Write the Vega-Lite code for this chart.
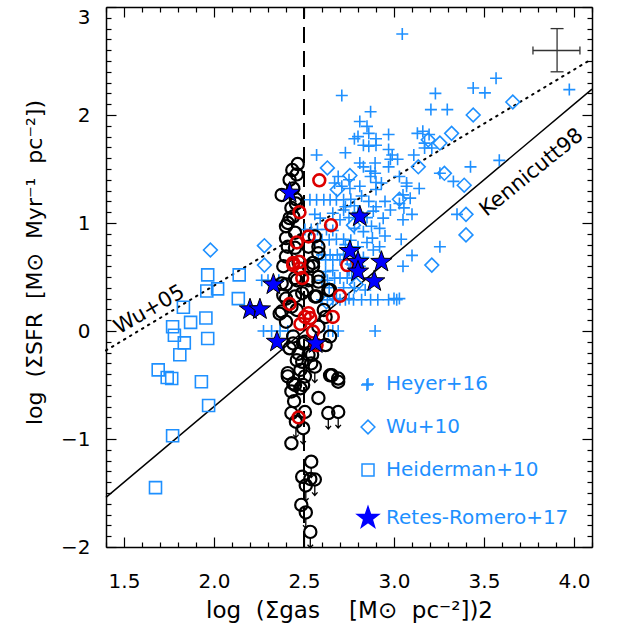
{
  "$schema": "https://vega.github.io/schema/vega-lite/v6.json",
  "width": 486,
  "height": 540,
  "autosize": {"type": "none"},
  "padding": {"left": 106, "top": 7, "right": 25, "bottom": 77},
  "background": "white",
  "config": {
    "view": {"stroke": null},
    "font": "DejaVu Sans",
    "axis": {"domainColor": "black", "domainWidth": 1.5, "tickColor": "black", "tickWidth": 1.2, "labelColor": "black", "titleColor": "black", "grid": false, "labelFont": "DejaVu Sans", "titleFont": "DejaVu Sans", "labelFontSize": 20, "titleFontSize": 22, "titleFontWeight": "normal", "labelFlush": false, "labelOverlap": false},
    "legend": {"padding": 0, "rowPadding": 23, "labelFontSize": 20, "labelFont": "DejaVu Sans", "labelColor": "#1e90ff", "labelOffset": 6, "labelLimit": 400, "symbolStrokeWidth": 1.5, "symbolOpacity": 1}
  },
  "datasets": {
    "kenn": [{"x": 1.4, "y": -1.54}, {"x": 4.1, "y": 2.24}],
    "wu05": [{"x": 1.4, "y": -0.18}, {"x": 4.1, "y": 2.52}],
    "vline": [{"x": 2.5, "y": -2, "y2": 3}],
    "errh": [{"x": 3.772, "x2": 4.033, "y": 2.597}],
    "errv": [{"x": 3.906, "y": 2.40, "y2": 2.80}],
    "capsv": [{"x": 3.772, "y": 2.597}, {"x": 4.033, "y": 2.597}],
    "capsh": [{"x": 3.906, "y": 2.40}, {"x": 3.906, "y": 2.80}],
    "labwu": [{"x": 1.642, "y": 0.195, "label": "Wu+05"}],
    "labk": [{"x": 3.765, "y": 1.466, "label": "Kennicutt98"}],
    "blue": [
      {"series": "Heyer+16", "x": 3.046, "y": 2.75}, {"series": "Heyer+16", "x": 2.71, "y": 2.18}, {"series": "Heyer+16", "x": 3.23, "y": 2.20}, {"series": "Heyer+16", "x": 3.44, "y": 2.25}, {"series": "Heyer+16", "x": 3.505, "y": 2.205}, {"series": "Heyer+16", "x": 3.567, "y": 2.34}, {"series": "Heyer+16", "x": 3.974, "y": 2.235}, {"series": "Heyer+16", "x": 2.87, "y": 2.03}, {"series": "Heyer+16", "x": 3.205, "y": 2.05}, {"series": "Heyer+16", "x": 3.296, "y": 2.05},
      {"series": "Heyer+16", "x": 2.81, "y": 1.94}, {"series": "Heyer+16", "x": 2.85, "y": 1.895}, {"series": "Heyer+16", "x": 2.86, "y": 1.83}, {"series": "Heyer+16", "x": 2.80, "y": 1.80}, {"series": "Heyer+16", "x": 2.78, "y": 1.78}, {"series": "Heyer+16", "x": 2.90, "y": 1.78}, {"series": "Heyer+16", "x": 2.97, "y": 1.82}, {"series": "Heyer+16", "x": 3.13, "y": 1.83}, {"series": "Heyer+16", "x": 3.16, "y": 1.85}, {"series": "Heyer+16", "x": 3.195, "y": 1.82}, {"series": "Heyer+16", "x": 3.17, "y": 1.74},
      {"series": "Heyer+16", "x": 2.86, "y": 1.71}, {"series": "Heyer+16", "x": 2.73, "y": 1.65}, {"series": "Heyer+16", "x": 2.57, "y": 1.63}, {"series": "Heyer+16", "x": 2.97, "y": 1.68}, {"series": "Heyer+16", "x": 2.99, "y": 1.63}, {"series": "Heyer+16", "x": 2.98, "y": 1.59}, {"series": "Heyer+16", "x": 3.02, "y": 1.59}, {"series": "Heyer+16", "x": 3.11, "y": 1.63}, {"series": "Heyer+16", "x": 3.17, "y": 1.695}, {"series": "Heyer+16", "x": 3.21, "y": 1.695},
      {"series": "Heyer+16", "x": 2.83, "y": 1.72}, {"series": "Heyer+16", "x": 2.90, "y": 1.72},
      {"series": "Heyer+16", "x": 2.81, "y": 1.555}, {"series": "Heyer+16", "x": 2.83, "y": 1.52}, {"series": "Heyer+16", "x": 2.87, "y": 1.48}, {"series": "Heyer+16", "x": 2.895, "y": 1.555}, {"series": "Heyer+16", "x": 2.895, "y": 1.46}, {"series": "Heyer+16", "x": 2.87, "y": 1.43}, {"series": "Heyer+16", "x": 2.97, "y": 1.52}, {"series": "Heyer+16", "x": 2.69, "y": 1.43}, {"series": "Heyer+16", "x": 2.67, "y": 1.37}, {"series": "Heyer+16", "x": 2.81, "y": 1.34},
      {"series": "Heyer+16", "x": 2.71, "y": 1.34}, {"series": "Heyer+16", "x": 2.755, "y": 1.32}, {"series": "Heyer+16", "x": 2.75, "y": 1.40}, {"series": "Heyer+16", "x": 2.90, "y": 1.375}, {"series": "Heyer+16", "x": 2.93, "y": 1.37}, {"series": "Heyer+16", "x": 2.90, "y": 1.31}, {"series": "Heyer+16", "x": 3.03, "y": 1.43}, {"series": "Heyer+16", "x": 3.07, "y": 1.34}, {"series": "Heyer+16", "x": 3.07, "y": 1.37}, {"series": "Heyer+16", "x": 3.14, "y": 1.32}, {"series": "Heyer+16", "x": 3.03, "y": 1.18}, {"series": "Heyer+16", "x": 3.09, "y": 1.23}, {"series": "Heyer+16", "x": 3.055, "y": 1.14}, {"series": "Heyer+16", "x": 3.05, "y": 1.26},
      {"series": "Heyer+16", "x": 3.255, "y": 1.46}, {"series": "Heyer+16", "x": 3.33, "y": 1.385}, {"series": "Heyer+16", "x": 3.425, "y": 1.52}, {"series": "Heyer+16", "x": 3.585, "y": 1.58}, {"series": "Heyer+16", "x": 3.35, "y": 1.08},
      {"series": "Heyer+16", "x": 2.94, "y": 1.045}, {"series": "Heyer+16", "x": 3.10, "y": 1.08}, {"series": "Heyer+16", "x": 3.05, "y": 1.03}, {"series": "Heyer+16", "x": 2.92, "y": 0.95}, {"series": "Heyer+16", "x": 2.875, "y": 0.97}, {"series": "Heyer+16", "x": 2.885, "y": 1.11}, {"series": "Heyer+16", "x": 3.04, "y": 0.85}, {"series": "Heyer+16", "x": 3.255, "y": 0.78}, {"series": "Heyer+16", "x": 3.10, "y": 0.70}, {"series": "Heyer+16", "x": 3.05, "y": 0.60},
      {"series": "Heyer+16", "x": 2.533, "y": 1.215}, {"series": "Heyer+16", "x": 2.57, "y": 1.215}, {"series": "Heyer+16", "x": 2.61, "y": 1.215}, {"series": "Heyer+16", "x": 2.645, "y": 1.215}, {"series": "Heyer+16", "x": 2.68, "y": 1.215}, {"series": "Heyer+16", "x": 2.72, "y": 1.215}, {"series": "Heyer+16", "x": 2.76, "y": 1.22},
      {"series": "Heyer+16", "x": 2.72, "y": 1.12}, {"series": "Heyer+16", "x": 2.56, "y": 1.08}, {"series": "Heyer+16", "x": 2.59, "y": 1.045}, {"series": "Heyer+16", "x": 2.70, "y": 1.03}, {"series": "Heyer+16", "x": 2.66, "y": 1.09}, {"series": "Heyer+16", "x": 2.75, "y": 1.05}, {"series": "Heyer+16", "x": 2.80, "y": 1.10},
      {"series": "Heyer+16", "x": 2.505, "y": 0.94}, {"series": "Heyer+16", "x": 2.54, "y": 0.94}, {"series": "Heyer+16", "x": 2.575, "y": 0.94}, {"series": "Heyer+16", "x": 2.625, "y": 0.94}, {"series": "Heyer+16", "x": 2.66, "y": 0.93}, {"series": "Heyer+16", "x": 2.83, "y": 0.92}, {"series": "Heyer+16", "x": 2.78, "y": 0.95},
      {"series": "Heyer+16", "x": 2.56, "y": 0.845}, {"series": "Heyer+16", "x": 2.60, "y": 0.845}, {"series": "Heyer+16", "x": 2.64, "y": 0.845}, {"series": "Heyer+16", "x": 2.68, "y": 0.85}, {"series": "Heyer+16", "x": 2.72, "y": 0.85}, {"series": "Heyer+16", "x": 2.76, "y": 0.84},
      {"series": "Heyer+16", "x": 2.73, "y": 0.80}, {"series": "Heyer+16", "x": 2.885, "y": 0.75}, {"series": "Heyer+16", "x": 2.80, "y": 0.78}, {"series": "Heyer+16", "x": 2.85, "y": 0.82},
      {"series": "Heyer+16", "x": 2.60, "y": 0.705}, {"series": "Heyer+16", "x": 2.645, "y": 0.705}, {"series": "Heyer+16", "x": 2.685, "y": 0.705}, {"series": "Heyer+16", "x": 2.72, "y": 0.71},
      {"series": "Heyer+16", "x": 2.58, "y": 0.66}, {"series": "Heyer+16", "x": 2.62, "y": 0.66}, {"series": "Heyer+16", "x": 2.66, "y": 0.66}, {"series": "Heyer+16", "x": 2.70, "y": 0.66}, {"series": "Heyer+16", "x": 2.74, "y": 0.66},
      {"series": "Heyer+16", "x": 2.76, "y": 0.62}, {"series": "Heyer+16", "x": 2.81, "y": 0.60},
      {"series": "Heyer+16", "x": 2.67, "y": 0.49}, {"series": "Heyer+16", "x": 2.70, "y": 0.49}, {"series": "Heyer+16", "x": 2.74, "y": 0.49}, {"series": "Heyer+16", "x": 2.765, "y": 0.49}, {"series": "Heyer+16", "x": 2.60, "y": 0.47}, {"series": "Heyer+16", "x": 2.63, "y": 0.47}, {"series": "Heyer+16", "x": 2.265, "y": 0.47}, {"series": "Heyer+16", "x": 2.30, "y": 0.47}, {"series": "Heyer+16", "x": 2.36, "y": 0.47},
      {"series": "Heyer+16", "x": 2.60, "y": 0.29}, {"series": "Heyer+16", "x": 2.63, "y": 0.29}, {"series": "Heyer+16", "x": 2.66, "y": 0.29}, {"series": "Heyer+16", "x": 2.70, "y": 0.29}, {"series": "Heyer+16", "x": 2.73, "y": 0.29}, {"series": "Heyer+16", "x": 2.775, "y": 0.29}, {"series": "Heyer+16", "x": 2.82, "y": 0.29}, {"series": "Heyer+16", "x": 2.87, "y": 0.29}, {"series": "Heyer+16", "x": 2.91, "y": 0.29}, {"series": "Heyer+16", "x": 2.97, "y": 0.29}, {"series": "Heyer+16", "x": 3.015, "y": 0.29}, {"series": "Heyer+16", "x": 2.68, "y": 0.30}, {"series": "Heyer+16", "x": 2.75, "y": 0.30},
      {"series": "Heyer+16", "x": 2.275, "y": 0.0}, {"series": "Heyer+16", "x": 2.32, "y": 0.0}, {"series": "Heyer+16", "x": 2.367, "y": 0.0}, {"series": "Heyer+16", "x": 2.41, "y": 0.0}, {"series": "Heyer+16", "x": 2.635, "y": 0.0}, {"series": "Heyer+16", "x": 2.66, "y": 0.0}, {"series": "Heyer+16", "x": 2.69, "y": 0.0}, {"series": "Heyer+16", "x": 2.895, "y": 0.0},
      {"series": "Heyer+16", "x": 2.85, "y": -0.50},
      {"series": "Heyer+16", "x": 2.62, "y": 0.55}, {"series": "Heyer+16", "x": 2.66, "y": 0.56}, {"series": "Heyer+16", "x": 2.75, "y": 0.56}, {"series": "Heyer+16", "x": 2.78, "y": 0.40}, {"series": "Heyer+16", "x": 2.72, "y": 0.40}, {"series": "Heyer+16", "x": 2.84, "y": 0.38}, {"series": "Heyer+16", "x": 2.64, "y": 0.40},
      {"series": "Heyer+16", "x": 2.73, "y": 1.15}, {"series": "Heyer+16", "x": 2.78, "y": 1.16}, {"series": "Heyer+16", "x": 2.82, "y": 1.25}, {"series": "Heyer+16", "x": 2.86, "y": 1.20}, {"series": "Heyer+16", "x": 2.85, "y": 1.05}, {"series": "Heyer+16", "x": 2.90, "y": 1.15}, {"series": "Heyer+16", "x": 2.95, "y": 1.20}, {"series": "Heyer+16", "x": 2.98, "y": 1.12}, {"series": "Heyer+16", "x": 2.95, "y": 0.88}, {"series": "Heyer+16", "x": 2.88, "y": 0.86}, {"series": "Heyer+16", "x": 2.92, "y": 0.78}, {"series": "Heyer+16", "x": 2.78, "y": 0.70}, {"series": "Heyer+16", "x": 2.83, "y": 0.68},
      {"series": "Heyer+16", "x": 3.00, "y": 0.30}, {"series": "Heyer+16", "x": 3.03, "y": 0.30},
      {"series": "Wu+10", "x": 1.98, "y": 0.75}, {"series": "Wu+10", "x": 2.28, "y": 0.79}, {"series": "Wu+10", "x": 2.28, "y": 0.61}, {"series": "Wu+10", "x": 2.63, "y": 1.51}, {"series": "Wu+10", "x": 2.755, "y": 1.44}, {"series": "Wu+10", "x": 2.685, "y": 1.31}, {"series": "Wu+10", "x": 3.19, "y": 1.77}, {"series": "Wu+10", "x": 3.255, "y": 1.74}, {"series": "Wu+10", "x": 3.32, "y": 1.83}, {"series": "Wu+10", "x": 3.44, "y": 2.00}, {"series": "Wu+10", "x": 3.66, "y": 2.12}, {"series": "Wu+10", "x": 3.135, "y": 1.52}, {"series": "Wu+10", "x": 3.28, "y": 1.46}, {"series": "Wu+10", "x": 3.03, "y": 1.22}, {"series": "Wu+10", "x": 3.39, "y": 1.35}, {"series": "Wu+10", "x": 3.40, "y": 1.08}, {"series": "Wu+10", "x": 3.40, "y": 0.89}, {"series": "Wu+10", "x": 3.21, "y": 0.61}, {"series": "Wu+10", "x": 2.775, "y": 0.98}, {"series": "Wu+10", "x": 2.79, "y": 0.43}, {"series": "Wu+10", "x": 2.625, "y": 0.27},
      {"series": "Heiderman+10", "x": 1.965, "y": 0.52}, {"series": "Heiderman+10", "x": 2.14, "y": 0.52}, {"series": "Heiderman+10", "x": 1.96, "y": 0.37}, {"series": "Heiderman+10", "x": 2.02, "y": 0.39}, {"series": "Heiderman+10", "x": 2.135, "y": 0.30}, {"series": "Heiderman+10", "x": 1.83, "y": 0.22}, {"series": "Heiderman+10", "x": 1.87, "y": 0.08}, {"series": "Heiderman+10", "x": 1.955, "y": 0.12}, {"series": "Heiderman+10", "x": 1.77, "y": 0.04}, {"series": "Heiderman+10", "x": 1.78, "y": -0.04}, {"series": "Heiderman+10", "x": 1.835, "y": -0.11}, {"series": "Heiderman+10", "x": 1.965, "y": -0.07}, {"series": "Heiderman+10", "x": 1.81, "y": -0.22}, {"series": "Heiderman+10", "x": 1.69, "y": -0.36}, {"series": "Heiderman+10", "x": 1.74, "y": -0.43}, {"series": "Heiderman+10", "x": 1.765, "y": -0.44}, {"series": "Heiderman+10", "x": 1.93, "y": -0.47}, {"series": "Heiderman+10", "x": 1.97, "y": -0.69}, {"series": "Heiderman+10", "x": 1.77, "y": -0.97}, {"series": "Heiderman+10", "x": 1.675, "y": -1.45},
      {"series": "Retes-Romero+17", "x": 2.42, "y": 1.28}, {"series": "Retes-Romero+17", "x": 2.81, "y": 1.06}, {"series": "Retes-Romero+17", "x": 2.755, "y": 0.74}, {"series": "Retes-Romero+17", "x": 2.80, "y": 0.64}, {"series": "Retes-Romero+17", "x": 2.80, "y": 0.55}, {"series": "Retes-Romero+17", "x": 2.93, "y": 0.64}, {"series": "Retes-Romero+17", "x": 2.89, "y": 0.46}, {"series": "Retes-Romero+17", "x": 2.33, "y": 0.43}, {"series": "Retes-Romero+17", "x": 2.20, "y": 0.20}, {"series": "Retes-Romero+17", "x": 2.255, "y": 0.20}, {"series": "Retes-Romero+17", "x": 2.35, "y": -0.10}, {"series": "Retes-Romero+17", "x": 2.565, "y": -0.115}
    ],
    "black": [
      {"x": 2.465, "y": 1.546}, {"x": 2.435, "y": 1.49}, {"x": 2.46, "y": 1.45}, {"x": 2.42, "y": 1.40}, {"x": 2.44, "y": 1.32}, {"x": 2.376, "y": 1.26}, {"x": 2.455, "y": 1.22}, {"x": 2.455, "y": 1.18}, {"x": 2.43, "y": 1.14}, {"x": 2.44, "y": 1.06}, {"x": 2.42, "y": 1.045}, {"x": 2.41, "y": 1.00}, {"x": 2.40, "y": 0.97}, {"x": 2.45, "y": 0.91}, {"x": 2.40, "y": 0.86}, {"x": 2.56, "y": 0.875}, {"x": 2.525, "y": 0.78}, {"x": 2.58, "y": 0.78}, {"x": 2.58, "y": 0.72}, {"x": 2.45, "y": 0.77}, {"x": 2.41, "y": 0.78}, {"x": 2.40, "y": 0.69}, {"x": 2.47, "y": 0.64}, {"x": 2.55, "y": 0.63}, {"x": 2.385, "y": 0.60}, {"x": 2.525, "y": 0.60}, {"x": 2.55, "y": 0.60}, {"x": 2.58, "y": 0.50},
      {"x": 2.376, "y": 0.44}, {"x": 2.40, "y": 0.43}, {"x": 2.45, "y": 0.49}, {"x": 2.46, "y": 0.47}, {"x": 2.525, "y": 0.47}, {"x": 2.58, "y": 0.457}, {"x": 2.515, "y": 0.38}, {"x": 2.635, "y": 0.38}, {"x": 2.645, "y": 0.38}, {"x": 2.40, "y": 0.30}, {"x": 2.385, "y": 0.33}, {"x": 2.45, "y": 0.32}, {"x": 2.49, "y": 0.35}, {"x": 2.56, "y": 0.32}, {"x": 2.57, "y": 0.32}, {"x": 2.43, "y": 0.225}, {"x": 2.365, "y": 0.16}, {"x": 2.376, "y": 0.18}, {"x": 2.46, "y": 0.195}, {"x": 2.61, "y": 0.195}, {"x": 2.62, "y": 0.13}, {"x": 2.40, "y": 0.086}, {"x": 2.58, "y": 0.04}, {"x": 2.44, "y": -0.05}, {"x": 2.645, "y": -0.05}, {"x": 2.44, "y": -0.115}, {"x": 2.495, "y": -0.115}, {"x": 2.505, "y": -0.10}, {"x": 2.62, "y": -0.13}, {"x": 2.42, "y": -0.16}, {"x": 2.47, "y": -0.21}, {"x": 2.525, "y": -0.22}, {"x": 2.545, "y": -0.22}, {"x": 2.46, "y": -0.27}, {"x": 2.49, "y": -0.285}, {"x": 2.54, "y": -0.30}, {"x": 2.56, "y": -0.33, "lim": true}, {"x": 2.48, "y": -0.36}, {"x": 2.41, "y": -0.39}, {"x": 2.41, "y": -0.42}, {"x": 2.505, "y": -0.42}, {"x": 2.645, "y": -0.41}, {"x": 2.655, "y": -0.41}, {"x": 2.69, "y": -0.44}, {"x": 2.69, "y": -0.47}, {"x": 2.44, "y": -0.485}, {"x": 2.45, "y": -0.50}, {"x": 2.495, "y": -0.50}, {"x": 2.48, "y": -0.53}, {"x": 2.43, "y": -0.56},
      {"x": 2.58, "y": -0.62}, {"x": 2.445, "y": -0.65}, {"x": 2.43, "y": -0.76}, {"x": 2.505, "y": -0.75}, {"x": 2.635, "y": -0.76, "lim": true}, {"x": 2.69, "y": -0.75, "lim": true}, {"x": 2.455, "y": -0.84, "lim": true}, {"x": 2.495, "y": -0.90, "lim": true}, {"x": 2.43, "y": -1.04}, {"x": 2.54, "y": -1.21, "lim": true}, {"x": 2.49, "y": -1.35}, {"x": 2.535, "y": -1.37}, {"x": 2.56, "y": -1.375, "lim": true}, {"x": 2.51, "y": -1.43, "lim": true}, {"x": 2.485, "y": -1.61}, {"x": 2.51, "y": -1.68, "lim": true}, {"x": 2.535, "y": -1.86, "lim": true}
    ],
    "red": [
      {"x": 2.585, "y": 1.395}, {"x": 2.475, "y": 1.10}, {"x": 2.65, "y": 0.98}, {"x": 2.525, "y": 0.875}, {"x": 2.46, "y": 0.82}, {"x": 2.44, "y": 0.63}, {"x": 2.475, "y": 0.64}, {"x": 2.74, "y": 0.61}, {"x": 2.44, "y": 0.61}, {"x": 2.475, "y": 0.58}, {"x": 2.49, "y": 0.49}, {"x": 2.70, "y": 0.325}, {"x": 2.42, "y": 0.25}, {"x": 2.525, "y": 0.165}, {"x": 2.505, "y": 0.13}, {"x": 2.535, "y": 0.12}, {"x": 2.66, "y": 0.13}, {"x": 2.48, "y": 0.065}, {"x": 2.55, "y": -0.005}, {"x": 2.57, "y": -0.13}, {"x": 2.47, "y": -0.80}
    ]
  },
  "resolve": {"axis": {"x": "independent", "y": "independent"}},
  "encoding": {
    "x": {"field": "x", "type": "quantitative", "scale": {"domain": [1.4, 4.1], "nice": false, "zero": false}, "axis": null},
    "y": {"field": "y", "type": "quantitative", "scale": {"domain": [-2, 3], "nice": false, "zero": false}, "axis": null}
  },
  "layer": [
    {
      "data": {"name": "kenn"},
      "mark": {"type": "line", "color": "black", "strokeWidth": 1.5},
      "encoding": {
        "x": {"field": "x", "type": "quantitative", "scale": {"domain": [1.4, 4.1], "nice": false, "zero": false},
          "axis": {"orient": "bottom", "values": [1.4,1.5,1.6,1.7,1.8,1.9,2.0,2.1,2.2,2.3,2.4,2.5,2.6,2.7,2.8,2.9,3.0,3.1,3.2,3.3,3.4,3.5,3.6,3.7,3.8,3.9,4.0,4.1],
            "labelExpr": "abs(datum.value - round(datum.value*2)/2) < 0.001 ? format(datum.value, '.1f') : ''",
            "tickSize": {"condition": {"test": "abs(datum.value - round(datum.value*2)/2) < 0.001", "value": -10}, "value": -5},
            "labelPadding": 34, "title": "log\u00a0\u00a0(Σgas\u00a0\u00a0\u00a0\u00a0[M⊙\u00a0\u00a0pc⁻²])2", "titleFontSize": 23, "titlePadding": 3}},
        "y": {"field": "y", "type": "quantitative", "scale": {"domain": [-2, 3], "nice": false, "zero": false},
          "axis": {"orient": "left", "values": [-2,-1.9,-1.8,-1.7,-1.6,-1.5,-1.4,-1.3,-1.2,-1.1,-1,-0.9,-0.8,-0.7,-0.6,-0.5,-0.4,-0.3,-0.2,-0.1,0,0.1,0.2,0.3,0.4,0.5,0.6,0.7,0.8,0.9,1,1.1,1.2,1.3,1.4,1.5,1.6,1.7,1.8,1.9,2,2.1,2.2,2.3,2.4,2.5,2.6,2.7,2.8,2.9,3],
            "labelExpr": "abs(datum.value - round(datum.value)) < 0.01 ? format(round(datum.value), 'd') : ''",
            "labelBaseline": {"condition": {"test": "datum.value > 2.95", "value": "top"}, "value": "middle"},
            "tickSize": {"condition": {"test": "abs(datum.value - round(datum.value)) < 0.01", "value": -10}, "value": -5},
            "labelPadding": 26, "title": "log\u00a0\u00a0(ΣSFR\u00a0\u00a0[M⊙\u00a0\u00a0Myr⁻¹\u00a0\u00a0pc⁻²])", "titlePadding": 14, "titleY": 255}}
      }
    },
    {
      "data": {"name": "wu05"},
      "mark": {"type": "line", "color": "black", "strokeWidth": 2, "strokeDash": [1.5, 5.5], "strokeCap": "round"},
      "encoding": {
        "x": {"field": "x", "type": "quantitative", "scale": {"domain": [1.4, 4.1], "nice": false, "zero": false},
          "axis": {"orient": "top", "values": [1.4,1.5,1.6,1.7,1.8,1.9,2.0,2.1,2.2,2.3,2.4,2.5,2.6,2.7,2.8,2.9,3.0,3.1,3.2,3.3,3.4,3.5,3.6,3.7,3.8,3.9,4.0,4.1],
            "labels": false, "title": null,
            "tickSize": {"condition": {"test": "abs(datum.value - round(datum.value*2)/2) < 0.001", "value": -10}, "value": -5}}},
        "y": {"field": "y", "type": "quantitative", "scale": {"domain": [-2, 3], "nice": false, "zero": false},
          "axis": {"orient": "right", "values": [-2,-1.9,-1.8,-1.7,-1.6,-1.5,-1.4,-1.3,-1.2,-1.1,-1,-0.9,-0.8,-0.7,-0.6,-0.5,-0.4,-0.3,-0.2,-0.1,0,0.1,0.2,0.3,0.4,0.5,0.6,0.7,0.8,0.9,1,1.1,1.2,1.3,1.4,1.5,1.6,1.7,1.8,1.9,2,2.1,2.2,2.3,2.4,2.5,2.6,2.7,2.8,2.9,3],
            "labels": false, "title": null,
            "tickSize": {"condition": {"test": "abs(datum.value - round(datum.value)) < 0.01", "value": -10}, "value": -5}}}
      }
    },
    {
      "data": {"name": "vline"},
      "mark": {"type": "rule", "color": "black", "strokeWidth": 2, "strokeDash": [16, 8]},
      "encoding": {"y2": {"field": "y2"}}
    },
    {
      "data": {"name": "blue"},
      "transform": [{"filter": "datum.series != 'Retes-Romero+17'"}],
      "mark": {"type": "point", "opacity": 1, "strokeWidth": 1.6},
      "encoding": {
        "shape": {"field": "series", "type": "nominal", "scale": {"domain": ["Heyer+16", "Wu+10", "Heiderman+10", "Retes-Romero+17"], "range": ["M-1,0H1M0,-1V1", "diamond", "square", "M0,-1L0.235,-0.324L0.951,-0.309L0.38,0.124L0.588,0.809L0,0.4L-0.588,0.809L-0.38,0.124L-0.951,-0.309L-0.235,-0.324Z"]}, "legend": {"title": null, "orient": "none", "legendX": 250, "legendY": 367}},
        "stroke": {"field": "series", "type": "nominal", "scale": {"domain": ["Heyer+16", "Wu+10", "Heiderman+10", "Retes-Romero+17"], "range": ["#1e90ff", "#1e90ff", "#1e90ff", "#0000ff"]}, "legend": {"title": null, "orient": "none", "legendX": 250, "legendY": 367}},
        "fill": {"field": "series", "type": "nominal", "scale": {"domain": ["Heyer+16", "Wu+10", "Heiderman+10", "Retes-Romero+17"], "range": ["transparent", "transparent", "transparent", "#0000ff"]}, "legend": {"title": null, "orient": "none", "legendX": 250, "legendY": 367}},
        "size": {"field": "series", "type": "nominal", "scale": {"type": "ordinal", "domain": ["Heyer+16", "Wu+10", "Heiderman+10", "Retes-Romero+17"], "range": [144, 190, 144, 500]}, "legend": {"title": null, "orient": "none", "legendX": 250, "legendY": 367}}
      }
    },
    {
      "data": {"name": "black"},
      "mark": {"type": "point", "shape": "circle", "filled": false, "opacity": 1, "color": "black", "strokeWidth": 2.2, "size": 150}
    },
    {
      "data": {"name": "black"},
      "transform": [{"filter": "datum.lim"}],
      "mark": {"type": "point", "shape": "M0,1V2.6M-0.45,2.1L0,2.6L0.45,2.1", "filled": false, "opacity": 1, "color": "black", "strokeWidth": 1.3, "size": 150}
    },
    {
      "data": {"name": "red"},
      "mark": {"type": "point", "shape": "circle", "filled": false, "opacity": 1, "color": "#dd0000", "strokeWidth": 2.6, "size": 140}
    },
    {
      "data": {"name": "blue"},
      "transform": [{"filter": "datum.series == 'Retes-Romero+17'"}],
      "mark": {"type": "point", "opacity": 1, "strokeWidth": 1, "stroke": "black"},
      "encoding": {
        "shape": {"field": "series", "type": "nominal", "scale": {"domain": ["Heyer+16", "Wu+10", "Heiderman+10", "Retes-Romero+17"], "range": ["M-1,0H1M0,-1V1", "diamond", "square", "M0,-1L0.235,-0.324L0.951,-0.309L0.38,0.124L0.588,0.809L0,0.4L-0.588,0.809L-0.38,0.124L-0.951,-0.309L-0.235,-0.324Z"]}, "legend": {"title": null, "orient": "none", "legendX": 250, "legendY": 367}},
        "fill": {"field": "series", "type": "nominal", "scale": {"domain": ["Heyer+16", "Wu+10", "Heiderman+10", "Retes-Romero+17"], "range": ["transparent", "transparent", "transparent", "#0000ff"]}, "legend": {"title": null, "orient": "none", "legendX": 250, "legendY": 367}},
        "size": {"field": "series", "type": "nominal", "scale": {"type": "ordinal", "domain": ["Heyer+16", "Wu+10", "Heiderman+10", "Retes-Romero+17"], "range": [144, 190, 144, 500]}, "legend": {"title": null, "orient": "none", "legendX": 250, "legendY": 367}}
      }
    },
    {
      "data": {"name": "errh"},
      "mark": {"type": "rule", "color": "#333333", "strokeWidth": 1.3},
      "encoding": {"x2": {"field": "x2"}}
    },
    {
      "data": {"name": "errv"},
      "mark": {"type": "rule", "color": "#333333", "strokeWidth": 1.3},
      "encoding": {"y2": {"field": "y2"}}
    },
    {
      "data": {"name": "capsv"},
      "mark": {"type": "point", "shape": "M0,-1V1", "filled": false, "opacity": 1, "color": "#333333", "strokeWidth": 1.3, "size": 64}
    },
    {
      "data": {"name": "capsh"},
      "mark": {"type": "point", "shape": "M-1,0H1", "filled": false, "opacity": 1, "color": "#333333", "strokeWidth": 1.3, "size": 169}
    },
    {
      "data": {"name": "labwu"},
      "mark": {"type": "text", "angle": 330, "fontSize": 21, "font": "DejaVu Sans", "align": "center", "baseline": "middle", "color": "black"},
      "encoding": {"text": {"field": "label"}}
    },
    {
      "data": {"name": "labk"},
      "mark": {"type": "text", "angle": 321, "fontSize": 21, "font": "DejaVu Sans", "align": "center", "baseline": "middle", "color": "black"},
      "encoding": {"text": {"field": "label"}}
    }
  ]
}
